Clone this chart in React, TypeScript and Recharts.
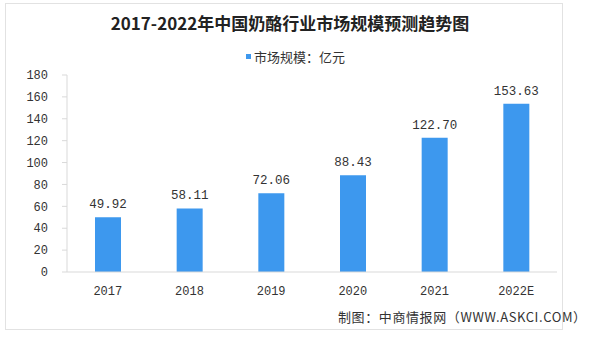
import { Bar, BarChart, LabelList, XAxis, YAxis } from "recharts";

const BLUE = "#3d98ee";
const GRID = "#d9d9d9";
const TEXT = "#333333";

const years = ["2017", "2018", "2019", "2020", "2021", "2022E"];
const marketSize = [49.92, 58.11, 72.06, 88.43, 122.7, 153.63];
const yTicks = [0, 20, 40, 60, 80, 100, 120, 140, 160, 180];

const data = years.map((year, i) => ({ year, value: marketSize[i] }));

const numFont = "'Liberation Mono', 'DejaVu Sans Mono', monospace";
const cjkFont = "'Noto Sans CJK SC', sans-serif";

export default function App() {
  return (
    <div
      style={{
        position: "fixed",
        left: 0,
        top: 0,
        width: 600,
        height: 352,
        background: "#fff",
        overflow: "hidden",
      }}
    >
      {/* frame */}
      <div
        style={{
          position: "absolute",
          left: 5,
          top: 3,
          width: 558,
          height: 327,
          border: "1px solid #e2e2e2",
          boxSizing: "border-box",
        }}
      />
      <div
        style={{
          position: "absolute",
          left: 0,
          top: 10,
          width: 580,
          textAlign: "center",
          fontFamily: cjkFont,
          fontWeight: 700,
          fontSize: 17,
          color: "#222",
        }}
      >
        2017-2022年中国奶酪行业市场规模预测趋势图
      </div>
      <div
        style={{
          position: "absolute",
          left: 246,
          top: 47,
          fontFamily: cjkFont,
          fontSize: 13,
          color: TEXT,
          display: "flex",
          alignItems: "center",
        }}
      >
        <span
          style={{
            display: "inline-block",
            width: 5,
            height: 5,
            background: BLUE,
            marginRight: 3,
          }}
        />
        市场规模：亿元
      </div>
      <div
        style={{
          position: "absolute",
          left: 338,
          top: 307,
          fontFamily: cjkFont,
          fontSize: 13,
          letterSpacing: 0.6,
          color: TEXT,
        }}
      >
        制图：中商情报网（WWW.ASKCI.COM）
      </div>
      <div style={{ position: "absolute", left: 0, top: 0 }}>
        <BarChart
          width={600}
          height={352}
          data={data}
          margin={{ top: 75, right: 43, bottom: 50, left: 27 }}
          barSize={26}
        >
          <XAxis
            dataKey="year"
            height={30}
            stroke={GRID}
            tickLine={false}
            tick={{ fill: TEXT, fontSize: 12, fontFamily: numFont }}
            tickMargin={8}
          />
          <YAxis
            width={40}
            domain={[0, 180]}
            ticks={yTicks}
            interval={0}
            stroke={GRID}
            tickSize={5}
            tickMargin={14}
            tick={{ fill: TEXT, fontSize: 12, fontFamily: numFont }}
          />
          <Bar dataKey="value" fill={BLUE} isAnimationActive={false}>
            <LabelList
              dataKey="value"
              position="top"
              offset={9}
              formatter={(v: number) => v.toFixed(2)}
              style={{ fill: TEXT, fontSize: 12.5, fontFamily: numFont }}
            />
          </Bar>
        </BarChart>
      </div>
    </div>
  );
}
